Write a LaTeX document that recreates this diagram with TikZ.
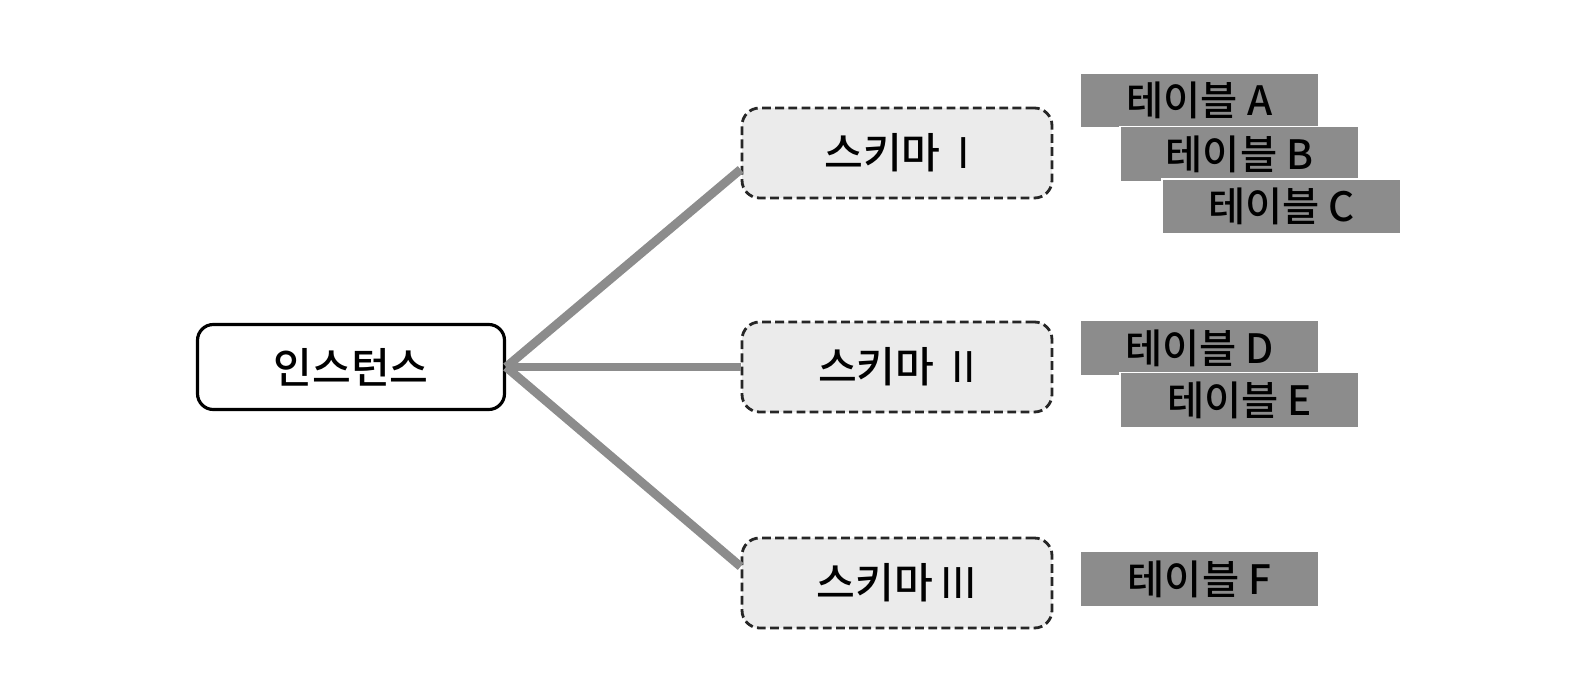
\documentclass[tikz,border=0pt]{standalone}
\usepackage{fontspec}
\setmainfont{Noto Sans CJK KR}[BoldFont={Noto Sans CJK KR Medium}]
\newcommand{\numr}[1]{\mdseries\,#1}
\begin{document}
\begin{tikzpicture}[
    x=1cm, y=1cm,
    every node/.style={font=\fontsize{24}{28}\selectfont\bfseries},
    inst/.style={
        draw,
        line width=1.8pt,
        rounded corners=9pt,
        fill=white,
        align=center,
        minimum width=6.14cm,
        minimum height=1.70cm
    },
    schema/.style={
        draw=black!85,
        dash pattern=on 5pt off 2.5pt,
        line width=1.6pt,
        rounded corners=10pt,
        fill=black!8,
        minimum width=6.2cm,
        minimum height=1.8cm
    },
    tbl/.style={
        draw=white,
        line width=0.6pt,
        fill=black!45,
        minimum width=4.78cm,
        minimum height=1.10cm,
        font=\fontsize{23}{27}\selectfont\bfseries
    },
    link/.style={line width=5pt, draw=black!45}
]

    % Frame
    \useasboundingbox (0,0) rectangle (31.64,-13.8);

    % Instance
    \node[inst] (inst) at (7.02, -7.34) {인스턴스};

    % Schemas
    \node[schema] (s1) at (17.94, -3.06) {스키마 \numr{I}};
    \node[schema] (s2) at (17.94, -7.34) {스키마 \numr{II}};
    \node[schema] (s3) at (17.94, -11.66) {스키마\numr{III}};

    % Links
    \draw[link] (inst.east) -- (s1.186);
    \draw[link] (inst.east) -- (s2.west);
    \draw[link] (inst.east) -- (s3.174);

    % Tables of schema I
    \node[tbl] (ta) at (23.99, -2.01) {테이블 A};
    \node[tbl] (tb) at (24.79, -3.08) {테이블 B};
    \node[tbl] (tc) at (25.63, -4.13) {테이블 C};

    % Tables of schema II
    \node[tbl] (td) at (23.99, -6.96) {테이블 D};
    \node[tbl] (te) at (24.79, -8.00) {테이블 E};

    % Table of schema III
    \node[tbl] (tf) at (23.99, -11.58) {테이블 F};

\end{tikzpicture}
\end{document}
